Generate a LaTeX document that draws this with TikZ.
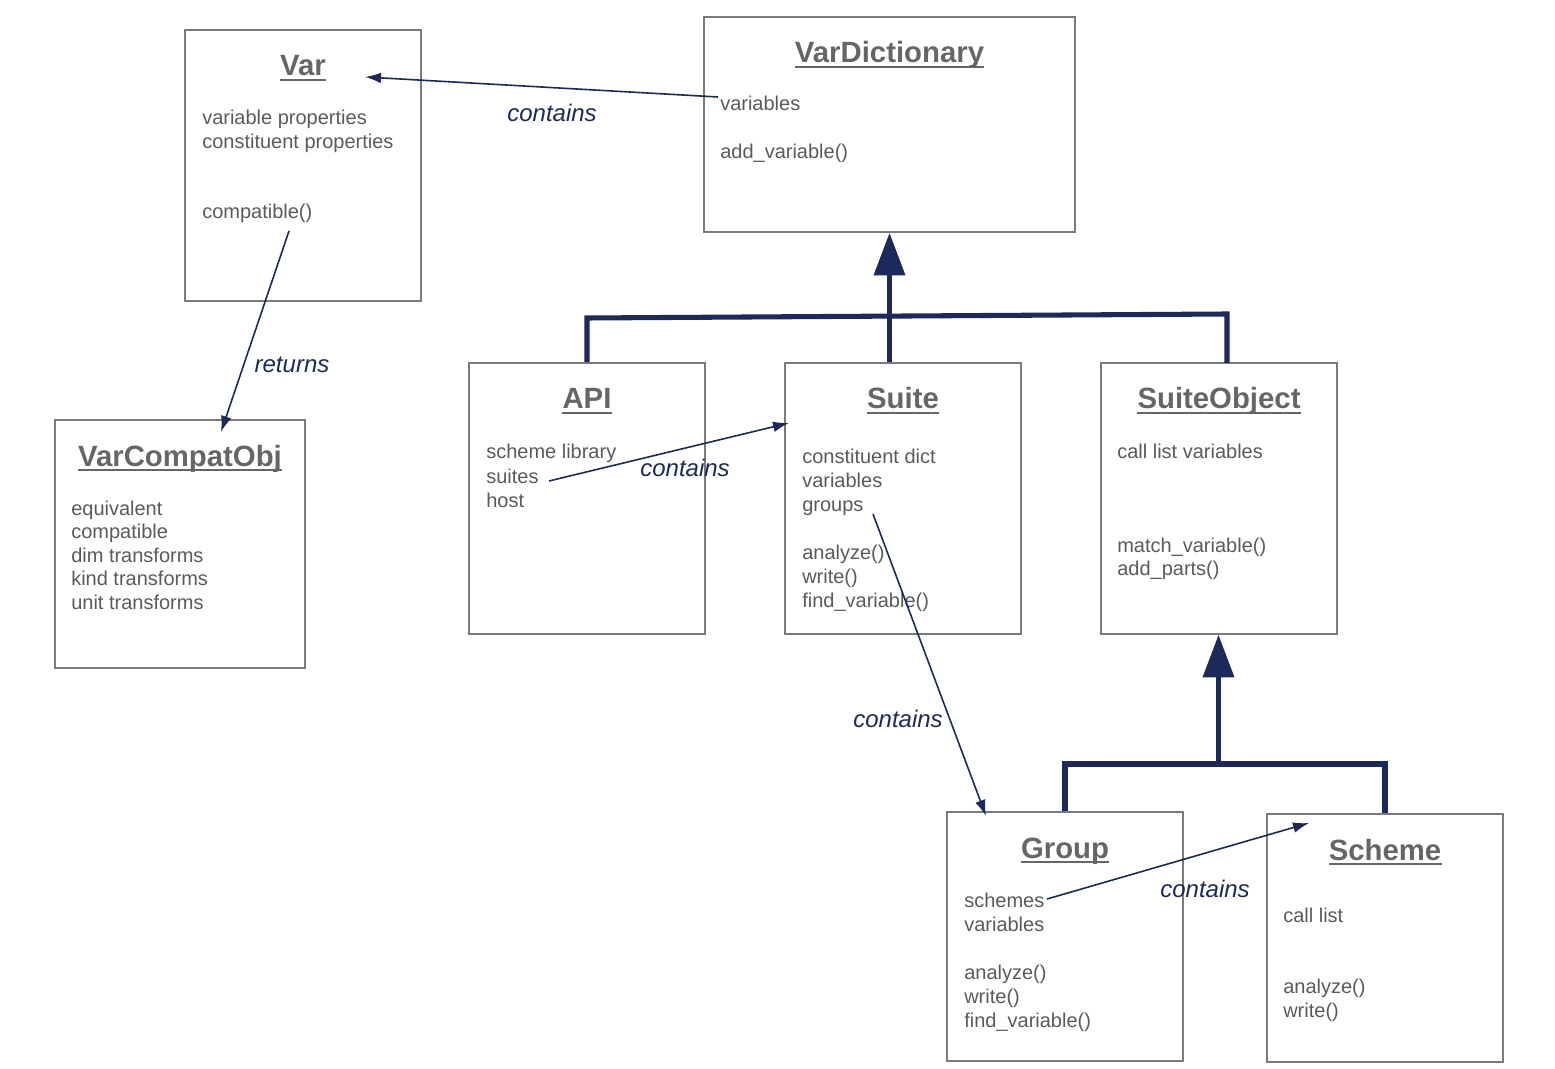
\documentclass[tikz,border=0pt]{standalone}
\usepackage{fontspec}
\setmainfont{Liberation Sans}
\usetikzlibrary{arrows.meta}
\definecolor{navy}{HTML}{1B2A5B}
\definecolor{boxgray}{HTML}{7A7A7A}
\definecolor{txtgray}{HTML}{5A5A5A}
\definecolor{ttlgray}{HTML}{666666}
\tikzset{
  box/.style 2 args={draw=boxgray, line width=1.2pt, inner sep=0pt, minimum width=#1*0.75pt, minimum height=#2*0.75pt},
  body/.style={font=\fontsize{15}{18}\selectfont, text=txtgray, inner sep=0pt, anchor=base west},
  ttl/.style={font=\fontsize{22}{26}\selectfont\bfseries, text=ttlgray, inner sep=0pt, anchor=base},
  ul/.style={draw=ttlgray, line width=1.5pt},
  rel/.style={draw=navy, line width=1.2pt, -{Latex[length=12pt,width=8pt]}},
  rellabel/.style={font=\fontsize{18}{22}\selectfont\itshape, text=navy, inner sep=0pt, anchor=base},
  inh/.style={draw=navy, line width=3.8pt, line join=miter},
  inharrow/.style={draw=navy, line width=3.8pt, -{Triangle[length=32pt,width=23pt]}},
}
\newcommand\umltitle[4]{% name, x, baseline y, text
  \node[ttl] (#1) at (#2,#3) {#4};
  \draw[ul] ([yshift=-2.8pt]#1.base west) -- ([yshift=-2.8pt]#1.base east);
}
\begin{document}
\begin{tikzpicture}[x=0.75pt,y=-0.75pt]
\useasboundingbox (0,0) rectangle (1555,1069);

% boxes
\node[box={236}{271}] (var) at (303,165.5) {};
\node[box={371}{215}] (vd) at (889.5,124.5) {};
\node[box={250}{248}] (vco) at (180,544) {};
\node[box={236}{271}] (api) at (587,498.5) {};
\node[box={236}{271}] (suite) at (903,498.5) {};
\node[box={236}{271}] (so) at (1219,498.5) {};
\node[box={236}{249}] (grp) at (1065,936.5) {};
\node[box={236}{248}] (sch) at (1385,938) {};

% titles
\umltitle{varT}{303}{76}{Var}
\umltitle{vdT}{889.5}{63}{VarDictionary}
\umltitle{vcoT}{180}{466}{VarCompatObj}
\umltitle{apiT}{587}{409}{API}
\umltitle{suiteT}{903}{409}{Suite}
\umltitle{soT}{1219}{409}{SuiteObject}
\umltitle{grpT}{1065}{858}{Group}
\umltitle{schT}{1385}{860}{Scheme}

% body texts
\node[body] (var1) at (202,125) {variable properties};
\node[body] (var2) at (202,149) {constituent properties};
\node[body] (var3) at (202,219) {compatible()};

\node[body] (vd1) at (720,111) {variables};
\node[body] (vd2) at (720,159) {add\_variable()};

\node[body] (vco1) at (71,515) {equivalent};
\node[body] (vco2) at (71,538) {compatible};
\node[body] (vco3) at (71,562) {dim transforms};
\node[body] (vco4) at (71,585) {kind transforms};
\node[body] (vco5) at (71,609) {unit transforms};

\node[body] (api1) at (486,459) {scheme library};
\node[body] (api2) at (486,483) {suites};
\node[body] (api3) at (486,507) {host};

\node[body] (suite1) at (802,463) {constituent dict};
\node[body] (suite2) at (802,487) {variables};
\node[body] (suite3) at (802,511) {groups};
\node[body] (suite4) at (802,559) {analyze()};
\node[body] (suite5) at (802,583) {write()};
\node[body] (suite6) at (802,607) {find\_variable()};

\node[body] (so1) at (1117,459) {call list variables};
\node[body] (so2) at (1117,552) {match\_variable()};
\node[body] (so3) at (1117,575) {add\_parts()};

\node[body] (grp1) at (964,907) {schemes};
\node[body] (grp2) at (964,931) {variables};
\node[body] (grp3) at (964,979) {analyze()};
\node[body] (grp4) at (964,1003) {write()};
\node[body] (grp5) at (964,1027) {find\_variable()};

\node[body] (sch1) at (1283,922) {call list};
\node[body] (sch2) at (1283,993) {analyze()};
\node[body] (sch3) at (1283,1017) {write()};

% connector end points
\coordinate (c1s) at (718,97);
\coordinate (c1e) at (365,77);
\coordinate (c2s) at (289,231);
\coordinate (c2e) at (221,432);
\coordinate (c3s) at (549,481);
\coordinate (c3e) at (789,423);
\coordinate (c4s) at (873,514);
\coordinate (c4e) at (986,816);
\coordinate (c5s) at (1047,899);
\coordinate (c5e) at (1309,823);

\draw[rel] (c1s) -- (c1e);
\draw[rel] (c2s) -- (c2e);
\draw[rel] (c3s) -- (c3e);
\draw[rel] (c4s) -- (c4e);
\draw[rel] (c5s) -- (c5e);

\node[rellabel] (l1) at (552,122) {contains};
\node[rellabel] (l2) at (292,373) {returns};
\node[rellabel] (l3) at (685,476) {contains};
\node[rellabel] (l4) at (898,727) {contains};
\node[rellabel] (l5) at (1205,897) {contains};

% inheritance tree 1
\coordinate (t1a) at (587,318);
\coordinate (t1b) at (1227,314);
\coordinate (t1c) at (1227,363);
\draw[inh] (api.north) -- (t1a) -- (t1b) -- (t1c);
\draw[inharrow] (suite.north -| vd.south) -- (vd.south);

% inheritance tree 2
\coordinate (t2a) at (1065,764);
\coordinate (t2b) at (1385,764);
\coordinate (t2c) at (1218.5,764);
\draw[inh] (grp.north) -- (t2a) -- (t2b) -- (sch.north);
\draw[inharrow] (t2c) -- (t2c |- so.south);
\end{tikzpicture}
\end{document}
